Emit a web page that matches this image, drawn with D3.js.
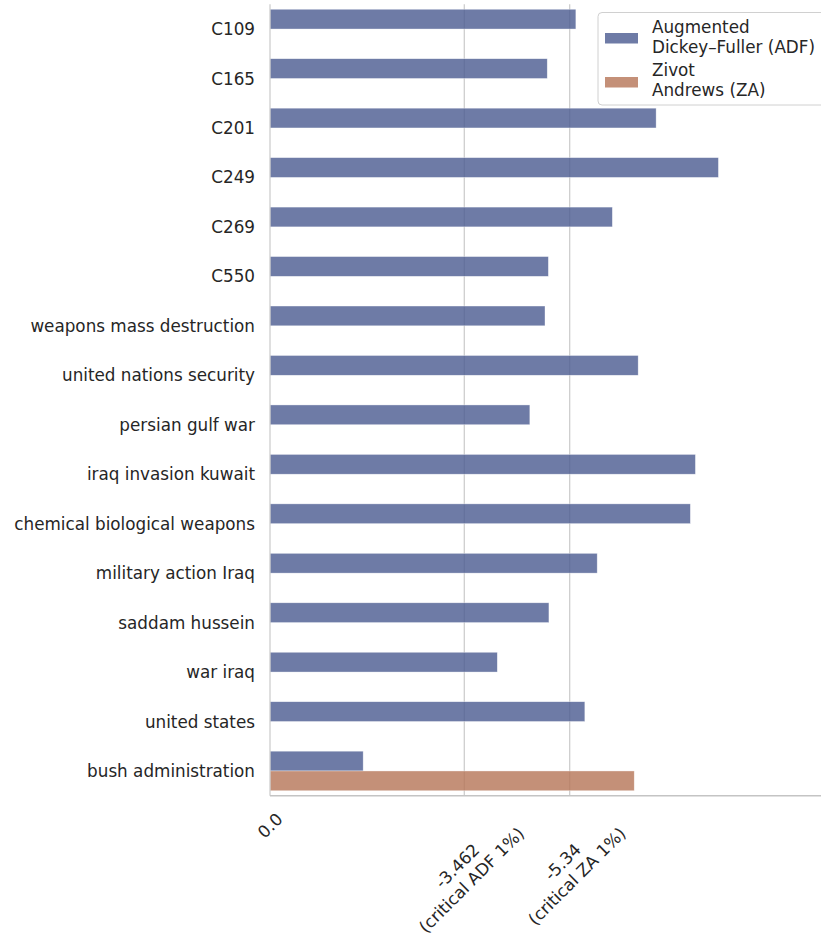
<!DOCTYPE html>
<html>
<head>
<meta charset="utf-8">
<script src="https://cdn.jsdelivr.net/npm/d3@7"></script>
<style>
    body { margin: 0; background: #ffffff; }
    svg { display: block; font-family: "DejaVu Sans", sans-serif; }
</style>
</head>
<body>
<div id="chart"></div>
<script>
// unit-root test statistics per term
let categories = ['C109', 'C165', 'C201', 'C249', 'C269', 'C550',
    'weapons mass destruction', 'united nations security', 'persian gulf war',
    'iraq invasion kuwait', 'chemical biological weapons', 'military action Iraq',
    'saddam hussein', 'war iraq', 'united states', 'bush administration'];

let adfValues = [-5.45, -4.94, -6.88, -7.99, -6.10, -4.96, -4.90, -6.56, -4.63,
    -7.58, -7.49, -5.83, -4.97, -4.05, -5.61, -1.66];

// ZA only computed for the last term
let zaValues = [null, null, null, null, null, null, null, null, null,
    null, null, null, null, null, null, -6.49];

let seriesNames = ['Augmented\nDickey\u2013Fuller (ADF)', 'Zivot\nAndrews (ZA)'];
let seriesColors = ['#4a5a90', '#b57456'];

let tickValues = [0, -3.462, -5.34];
let tickLabels = ['0.0', '-3.462\n(critical ADF 1%)', '-5.34\n(critical ZA 1%)'];

let W = 821, H = 937;
let textColor = '#262626';
let fontSize = 16.8;
let lineStep = fontSize * 1.2;

let svg = d3.select('#chart').append('svg')
    .attr('width', W)
    .attr('height', H);

let x = d3.scaleLinear().domain([0, -9.8]).range([270, 820]);
let y = d3.scaleBand().domain(categories).range([4.3, 795.7]).padding(0);
let hue = d3.scaleBand().domain([0, 1]).range([0.1 * y.bandwidth(), 0.9 * y.bandwidth()]);

let rows = categories.map((c, i) => ({cat: c, values: [adfValues[i], zaValues[i]]}));

// grid lines at the critical values
svg.append('g')
    .selectAll('line')
    .data(tickValues.slice(1))
    .enter()
    .append('line')
    .attr('x1', (d) => x(d))
    .attr('x2', (d) => x(d))
    .attr('y1', y.range()[0])
    .attr('y2', y.range()[1])
    .attr('stroke', '#cccccc')
    .attr('stroke-width', 1.25);

// bars
let groups = svg.append('g')
    .selectAll('g')
    .data(rows)
    .enter()
    .append('g')
    .attr('transform', (r) => 'translate(0,' + y(r.cat) + ')');

groups.selectAll('rect')
    .data((r) => r.values.map((v, k) => ({v: v, k: k})).filter((d) => d.v !== null))
    .enter()
    .append('rect')
    .attr('x', x(0))
    .attr('y', (d) => hue(d.k))
    .attr('width', (d) => x(d.v) - x(0))
    .attr('height', hue.bandwidth())
    .attr('fill', (d) => seriesColors[d.k])
    .attr('fill-opacity', 0.8)
    .attr('stroke', '#ffffff')
    .attr('stroke-opacity', 0.6)
    .attr('stroke-width', 0.6);

// spines (left + bottom only)
svg.append('line')
    .attr('x1', x(0)).attr('x2', x(0))
    .attr('y1', y.range()[0]).attr('y2', y.range()[1])
    .attr('stroke', '#cccccc').attr('stroke-width', 1.25);
svg.append('line')
    .attr('x1', x(0)).attr('x2', W)
    .attr('y1', y.range()[1]).attr('y2', y.range()[1])
    .attr('stroke', '#c4c4c4').attr('stroke-width', 1.5);

// y tick labels
svg.append('g')
    .selectAll('text')
    .data(categories)
    .enter()
    .append('text')
    .attr('x', 255)
    .attr('y', (c) => y(c) + y.bandwidth() / 2)
    .attr('dy', '0.36em')
    .attr('text-anchor', 'end')
    .attr('font-size', fontSize)
    .attr('fill', textColor)
    .text((c) => c);

// x tick labels: rotated 45deg, bbox centred on tick, top under the axis (matplotlib-like)
let labelTop = 809;
tickValues.forEach((t, i) => {
    let lines = tickLabels[i].split('\n');
    let txt = svg.append('text')
        .attr('text-anchor', 'middle')
        .attr('font-size', fontSize)
        .attr('fill', textColor);
    lines.forEach((l, j) => {
        txt.append('tspan')
            .attr('x', 0)
            .attr('y', j * lineStep)
            .text(l);
    });
    let b = txt.node().getBBox();
    let a = -Math.PI / 4;
    let corners = [[b.x, b.y], [b.x + b.width, b.y], [b.x, b.y + b.height], [b.x + b.width, b.y + b.height]]
        .map((p) => [p[0] * Math.cos(a) - p[1] * Math.sin(a), p[0] * Math.sin(a) + p[1] * Math.cos(a)]);
    let minX = d3.min(corners, (p) => p[0]), maxX = d3.max(corners, (p) => p[0]);
    let minY = d3.min(corners, (p) => p[1]);
    let tx = x(t) - (minX + maxX) / 2;
    let ty = labelTop - minY;
    txt.attr('transform', 'translate(' + tx + ',' + ty + ') rotate(-45)');
});

// legend
let legend = svg.append('g');
legend.append('rect')
    .attr('x', 598).attr('y', 12.5)
    .attr('width', 240).attr('height', 92.5)
    .attr('rx', 4)
    .attr('fill', '#ffffff').attr('fill-opacity', 0.8)
    .attr('stroke', '#d0d0d0').attr('stroke-width', 1);

let legendRows = [{top: 33, base: 33}, {top: 77, base: 76}];
seriesNames.forEach((name, k) => {
    legend.append('rect')
        .attr('x', 605).attr('y', legendRows[k].top)
        .attr('width', 33).attr('height', 10.5)
        .attr('fill', seriesColors[k]).attr('fill-opacity', 0.8);
    name.split('\n').forEach((l, j) => {
        legend.append('text')
            .attr('x', 652)
            .attr('y', legendRows[k].base + j * lineStep)
            .attr('font-size', fontSize)
            .attr('fill', textColor)
            .text(l);
    });
});
</script>
</body>
</html>
